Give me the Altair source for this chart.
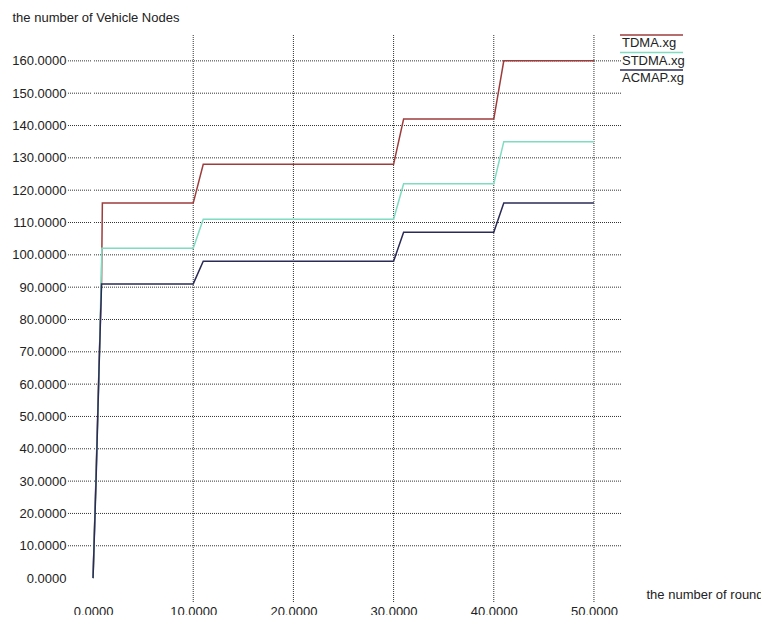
import altair as alt
import pandas as pd

# ---- data ----
series = ["TDMA.xg", "STDMA.xg", "ACMAP.xg"]
colors = ["#9e3c3c", "#7fdcc0", "#2b2b57"]

x_tdma = [0, 0.3, 0.6, 0.85, 0.93, 10, 11, 30, 31, 40, 41, 50]
y_tdma = [0, 32, 66, 92, 116, 116, 128, 128, 142, 142, 160, 160]
x_stdma = [0, 0.3, 0.6, 0.88, 10, 11, 30, 31, 40, 41, 50]
y_stdma = [0, 31, 64, 102, 102, 111, 111, 122, 122, 135, 135]
x_acmap = [0, 0.3, 0.6, 0.85, 10, 11, 30, 31, 40, 41, 50]
y_acmap = [0, 30, 65, 91, 91, 98, 98, 107, 107, 116, 116]

x_ticks = [0, 10, 20, 30, 40, 50]
y_ticks = list(range(0, 161, 10))
x_grid = [10, 20, 30, 40, 50]
y_grid = list(range(10, 161, 10))

rows = []
for name, xs, ys in [("TDMA.xg", x_tdma, y_tdma), ("STDMA.xg", x_stdma, y_stdma), ("ACMAP.xg", x_acmap, y_acmap)]:
    for i, (a, b) in enumerate(zip(xs, ys)):
        rows.append({"series": name, "x": a, "y": b, "idx": i})
df = pd.DataFrame(rows)

xscale = alt.Scale(domain=[-2.5, 52.7], nice=False, zero=False)
yscale = alt.Scale(domain=[-7.7, 168], nice=False, zero=False)

FONT = "Liberation Sans"

x_axis = alt.Axis(
    values=x_ticks, format=".4f", grid=False, domain=False, ticks=False,
    labelFontSize=13, labelColor="#222222", labelBaseline="top", labelPadding=2,
    labelFont=FONT,
    title="the number of rounds", titleX=578, titleY=-9, titleAlign="left",
    titleBaseline="middle", titleFontWeight="normal", titleFontSize=13,
    titleColor="#222222", titleFont=FONT,
)
y_axis = alt.Axis(
    values=y_ticks, format=".4f", grid=False, domain=False, ticks=False,
    labelFontSize=13, labelColor="#222222", labelPadding=2, labelFont=FONT,
    title="the number of Vehicle Nodes", titleAngle=0, titleX=-56, titleY=-18,
    titleAlign="left", titleBaseline="middle", titleFontWeight="normal",
    titleFontSize=13, titleColor="#222222", titleFont=FONT,
)

hgrid = alt.Chart(pd.DataFrame({"y": y_grid})).mark_rule(
    color="#333333", strokeDash=[1, 1], strokeWidth=1
).encode(y=alt.Y("y:Q", scale=yscale, axis=y_axis))

vgrid = alt.Chart(pd.DataFrame({"x": x_grid})).mark_rule(
    color="#333333", strokeDash=[1, 1], strokeWidth=1
).encode(x=alt.X("x:Q", scale=xscale, axis=x_axis))

zero_gap = alt.Chart(pd.DataFrame({"x": [0]})).mark_rule(
    color="white", strokeWidth=2
).encode(x=alt.X("x:Q", scale=xscale, axis=x_axis))

lines = alt.Chart(df).mark_line(strokeWidth=1.5).encode(
    x=alt.X("x:Q", scale=xscale, axis=x_axis),
    y=alt.Y("y:Q", scale=yscale, axis=y_axis),
    color=alt.Color("series:N", scale=alt.Scale(domain=series, range=colors), legend=None),
    order="idx:Q",
)

legend_layers = []
for i, (name, c) in enumerate(zip(series, colors)):
    d = pd.DataFrame({"s": [name]})
    legend_layers.append(
        alt.Chart(d).mark_rule(color=c, strokeWidth=1.5).encode(
            x=alt.value(552), x2=alt.value(615), y=alt.value(0 + i * 17.5)
        )
    )
    legend_layers.append(
        alt.Chart(d).mark_text(
            align="left", baseline="middle", fontSize=13, font=FONT, color="#222222"
        ).encode(text="s:N", x=alt.value(554), y=alt.value(8 + i * 17.5))
    )

chart = alt.layer(hgrid, vgrid, zero_gap, lines, *legend_layers).properties(
    width=553, height=568,
    autosize=alt.AutoSizeParams(type="none"),
    padding={"left": 60, "top": 27, "right": 140, "bottom": 12},
).configure(background="white").configure_view(stroke=None)

chart.save("out.html", embed_options={"renderer": "svg", "actions": False})
